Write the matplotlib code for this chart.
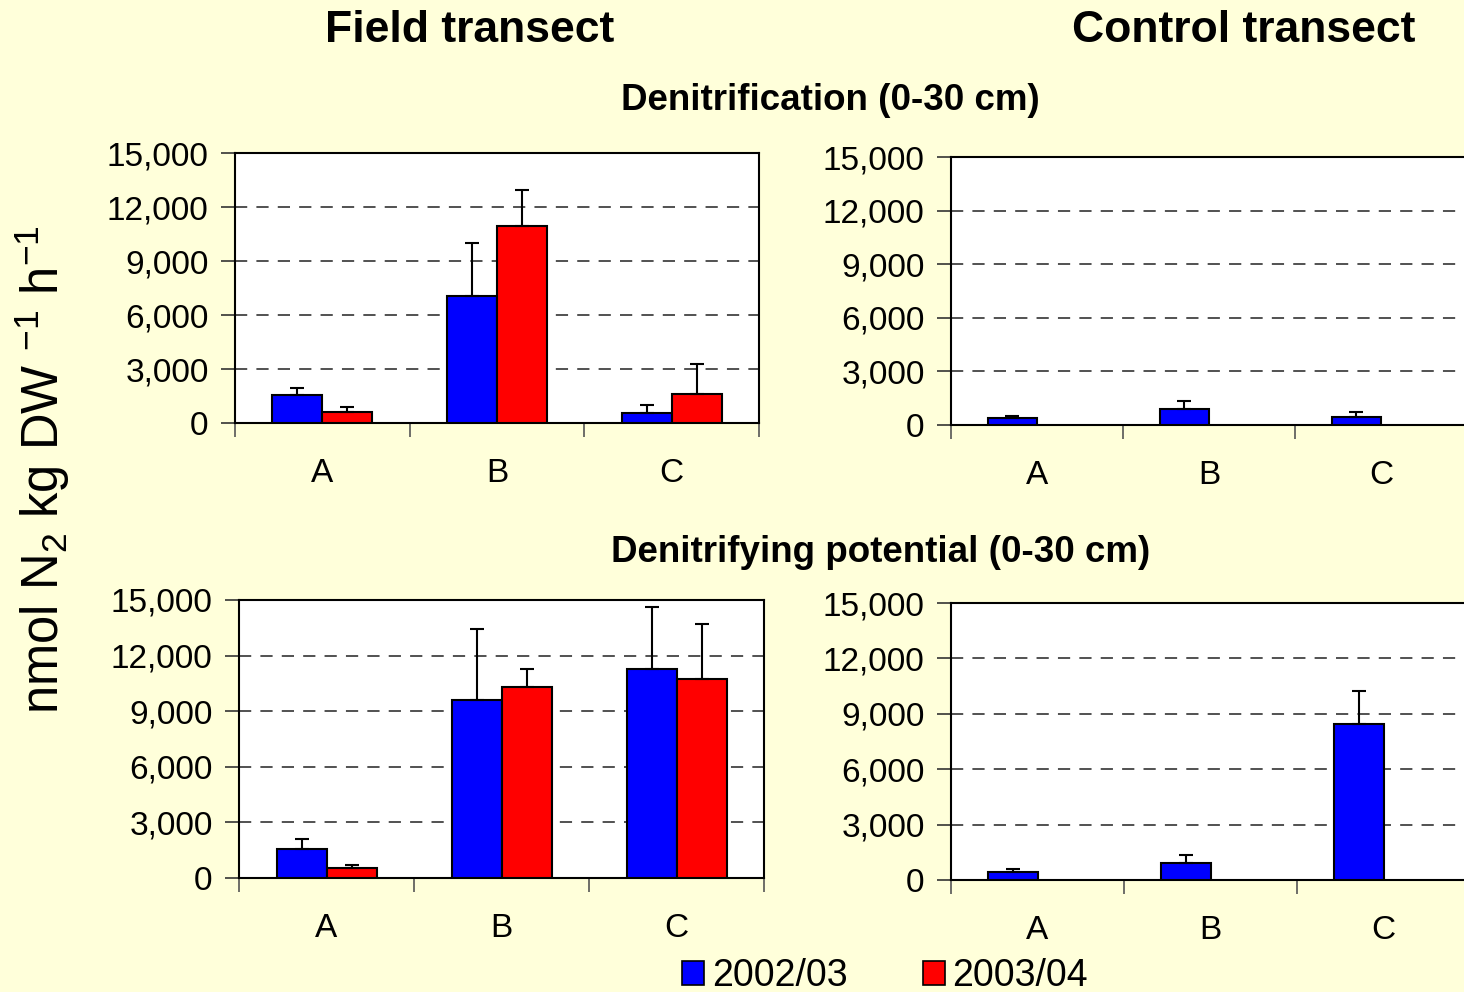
import numpy as np
import matplotlib
matplotlib.use('Agg')
import matplotlib.pyplot as plt
from matplotlib.ticker import FixedLocator, StrMethodFormatter, NullFormatter
from matplotlib.patches import Patch

plt.rcParams['font.family'] = ['Liberation Sans', 'DejaVu Sans']
plt.rcParams['mathtext.fontset'] = 'custom'
plt.rcParams['mathtext.rm'] = 'Liberation Sans'
plt.rcParams['mathtext.it'] = 'Liberation Sans'

# sites along each transect
sites = ['A', 'B', 'C']
seasons = ['2002/03', '2003/04']

# denitrification, field transect (mean, upper error)
den_field_0203 = [1580, 7050, 540]
den_field_0203_err = [370, 2950, 460]
den_field_0304 = [630, 10920, 1610]
den_field_0304_err = [240, 2020, 1650]

# denitrification, control transect (only 2002/03 sampled)
den_ctrl_0203 = [390, 880, 430]
den_ctrl_0203_err = [115, 490, 280]

# denitrifying potential, field transect
pot_field_0203 = [1590, 9590, 11280]
pot_field_0203_err = [540, 3820, 3340]
pot_field_0304 = [560, 10310, 10740]
pot_field_0304_err = [160, 970, 2980]

# denitrifying potential, control transect
pot_ctrl_0203 = [450, 920, 8470]
pot_ctrl_0203_err = [145, 435, 1785]

yticks = [0, 3000, 6000, 9000, 12000, 15000]

bg = '#FFFFDA'
blue = '#0000FF'
red = '#FF0000'
W, H = 1464, 992

fig = plt.figure(figsize=(W / 100, H / 100), dpi=100, facecolor=bg)


def px_axes(left, right, top, bottom):
    return fig.add_axes([left / W, 1 - bottom / H, (right - left) / W, (bottom - top) / H])


def draw_panel(ax, series):
    x = np.arange(len(sites))
    bw = 1 / 3.5
    offsets = [-bw / 2, bw / 2]
    for (vals, errs, col), off in zip(series, offsets):
        ax.bar(x + off, vals, width=bw, color=col, edgecolor='black', linewidth=1.5, zorder=3)
        ax.errorbar(x + off, vals, yerr=[np.zeros(len(vals)), errs], fmt='none',
                    ecolor='black', elinewidth=1.5, capsize=5, capthick=1.5, zorder=4)
    ax.set_xlim(-0.5, len(sites) - 0.5)
    ax.set_ylim(0, 15000)
    ax.set_facecolor('white')
    for sp in ax.spines.values():
        sp.set_linewidth(1.5)
        sp.set_color('black')
    ax.yaxis.set_major_locator(FixedLocator(yticks))
    ax.yaxis.set_major_formatter(StrMethodFormatter('{x:,.0f}'))
    ax.tick_params(axis='y', direction='out', length=10, width=1.2, color='#333333',
                   labelsize=24, pad=9)
    ax.set_xticks(x)
    ax.set_xticklabels(sites)
    ax.xaxis.set_minor_locator(FixedLocator(np.arange(-0.5, len(sites), 1.0)))
    ax.xaxis.set_minor_formatter(NullFormatter())
    ax.tick_params(axis='x', which='major', length=0, labelsize=24, pad=25)
    ax.tick_params(axis='x', which='minor', direction='out', length=10, width=1.2, color='#555555')
    for v in yticks[1:-1]:
        ax.axhline(v, color='#222222', lw=1.1, ls=(0, (8, 6)), zorder=1)


ax1 = px_axes(235, 759, 153, 423)
draw_panel(ax1, [(den_field_0203, den_field_0203_err, blue),
                 (den_field_0304, den_field_0304_err, red)])

ax2 = px_axes(951, 1467, 157, 425)
draw_panel(ax2, [(den_ctrl_0203, den_ctrl_0203_err, blue)])

ax3 = px_axes(239, 764, 600, 878)
draw_panel(ax3, [(pot_field_0203, pot_field_0203_err, blue),
                 (pot_field_0304, pot_field_0304_err, red)])

ax4 = px_axes(951, 1470, 603, 880)
draw_panel(ax4, [(pot_ctrl_0203, pot_ctrl_0203_err, blue)])

# headings
fig.text(470 / W, 1 - 30 / H, 'Field transect', ha='center', va='center',
         fontsize=32, fontweight='bold')
fig.text(1244 / W, 1 - 30 / H, 'Control transect', ha='center', va='center',
         fontsize=32, fontweight='bold')
fig.text(830 / W, 1 - 100 / H, 'Denitrification (0-30 cm)', ha='center', va='center',
         fontsize=26.5, fontweight='bold')
fig.text(881 / W, 1 - 553 / H, 'Denitrifying potential (0-30 cm)', ha='center', va='center',
         fontsize=26.5, fontweight='bold')

fig.text(42 / W, 1 - 470 / H, r'nmol N$_2$ kg DW $^{-1}$ h$^{-1}$', rotation=90,
         ha='center', va='center', fontsize=36.5)

handles = [Patch(facecolor=blue, edgecolor='black', linewidth=1.2),
           Patch(facecolor=red, edgecolor='black', linewidth=1.2)]
fig.legend(handles, seasons, loc='center', bbox_to_anchor=(885 / W, 1 - 976 / H),
           ncol=2, frameon=False, fontsize=27, handlelength=0.6, handleheight=0.6,
           handletextpad=0.2, columnspacing=2.0, borderpad=0, borderaxespad=0)

fig.savefig('out.png', dpi=100, facecolor=bg)
